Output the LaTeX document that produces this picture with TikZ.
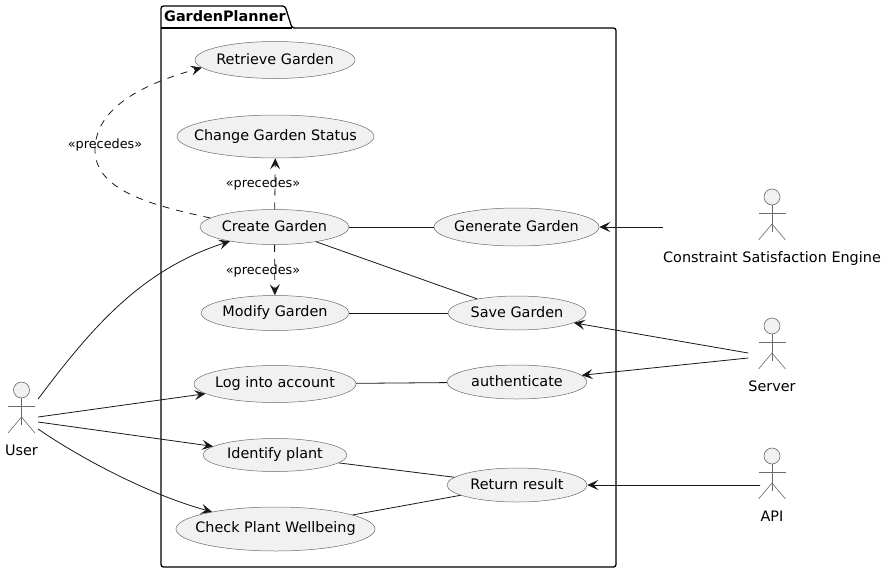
\documentclass[tikz,border=0pt]{standalone}
\usepackage{fontspec}
\setmainfont{DejaVu Sans}
\usetikzlibrary{arrows.meta, positioning, shapes.geometric}
\definecolor{usecasefill}{HTML}{F1F1F1}
\definecolor{usecaseline}{HTML}{6A6A6A}
\definecolor{linkline}{HTML}{181818}
\tikzset{node distance = 242pt, on grid,
         >= {Stealth[length = 11pt, width = 10pt, inset = 4.5pt]},
         usecase/.style = {ellipse, draw = usecaseline, line width = 0.5pt,
                           fill = usecasefill, inner sep = 0pt,
                           font = \fontsize{14.4}{16}\selectfont,
                           % text takes no room, so that the minimum sizes hold
                           execute at begin node = {\hbox to 0pt\bgroup\hss\raise 1.5pt\hbox\bgroup},
                           execute at end node = {\egroup\hss\egroup}},
         actorhead/.style = {circle, draw = usecaseline, line width = 0.6pt,
                             fill = usecasefill, minimum size = 16pt, inner sep = 0pt},
         actorline/.style = {draw = usecaseline, line width = 0.6pt},
         actorname/.style = {inner sep = 0pt, text height = 10pt, text depth = 3pt,
                             font = \fontsize{14.4}{16}\selectfont},
         link/.style = {draw = linkline, line width = 0.8pt},
         uses/.style = {link, ->},
         precedes/.style = {link, ->, dash pattern = on 7pt off 7pt},
         steptext/.style = {inner sep = 0pt, font = \fontsize{12.8}{14}\selectfont}}
% head, body, arms and legs, then the name under them
\newcommand{\actor}[4]{
    \node[actorhead] (#1head) at (#2, #3) {};
    \draw[actorline] (#1head.south) -- ++(0, 27);
    \draw[actorline] ([xshift = -13.5pt, yshift = -8pt]#1head.south) -- ++(27, 0);
    \draw[actorline] ([xshift = -13.5pt, yshift = -43pt]#1head.center) -- ++(13.5, -16) -- ++(13.5, 16);
    \node[actorname] (#1) at (#2, #3 + 61.5) {#4};
}

\begin{document}
\begin{tikzpicture}[x = 1pt, y = -1pt]
    \useasboundingbox (0, 0) rectangle (888, 573);

    % package
    \draw[line width = 1.3pt, rounded corners = 2.5pt]
        (161, 28) -- (161, 6) -- (285, 6) -- (292, 28) -- (616, 28)
        -- (616, 567) -- (161, 567) -- cycle;
    \draw[line width = 1.3pt] (161, 28) -- (292, 28);
    \node[inner sep = 0pt, anchor = west, font = \fontsize{14.4}{16}\selectfont\bfseries]
        (planner) at (164, 16) {GardenPlanner};

    % use cases
    \node[usecase, minimum width = 160pt, minimum height = 37pt] (retrieve) at (275, 60)    {Retrieve Garden};
    \node[usecase, minimum width = 197pt, minimum height = 43pt] (change)   at (275.5, 136.5) {Change Garden Status};
    \node[usecase, minimum width = 149pt, minimum height = 35pt] (create)   at (274.5, 227) {Create Garden};
    \node[usecase, minimum width = 148pt, minimum height = 35pt] (modify)   at (275, 313)   {Modify Garden};
    \node[usecase, minimum width = 162pt, minimum height = 37pt] (login)    at (275, 384)   {Log into account};
    \node[usecase, minimum width = 144pt, minimum height = 33pt] (identify) at (275, 455)   {Identify plant};
    \node[usecase, minimum width = 199pt, minimum height = 44pt] (check)    at (275.5, 529) {Check Plant Wellbeing};

    \node[usecase, minimum width = 165pt, minimum height = 38pt] (generate) [right of = create] {Generate Garden};
    \node[usecase, minimum width = 138pt, minimum height = 34pt] (save)     [right of = modify] {Save Garden};
    \node[usecase, minimum width = 140pt, minimum height = 34pt] (auth)     at (517, 382)   {authenticate};
    \node[usecase, minimum width = 140pt, minimum height = 34pt] (result)   at (517, 485)   {Return result};

    % actors
    \actor{user}{21.5}{390}{User}
    \actor{engine}{772}{197}{Constraint Satisfaction Engine}
    \actor{server}{772}{326}{Server}
    \actor{api}{772}{456}{API}

    % associations
    \draw[uses] ([yshift = 52.5pt]user.east) .. controls (90, 330) and (140, 270) .. (create);
    \draw[uses] ([yshift = 34.5pt]user.east) -- (login);
    \draw[uses] ([yshift = 29.5pt]user.east) -- (identify);
    \draw[uses] ([yshift = 22.5pt]user.east) .. controls (80, 458) and (150, 495) .. (check);

    \draw[link] (create) -- (generate);
    \draw[link] (create) -- (save);
    \draw[link] (modify) -- (save);
    \draw[link] (login) -- (auth);
    \draw[link] (identify) -- (result);
    \draw[link] (check) -- (result);

    \draw[uses] ([yshift = 31.5pt]engine.west) -- (generate);
    \draw[uses] ([yshift = 34.5pt]server.west) -- (save);
    \draw[uses] ([yshift = 29.5pt]server.west) -- (auth);
    \draw[uses] ([yshift = 32.5pt]api.west) -- (result);

    % dependencies
    \draw[precedes] (create.172) .. controls (150, 205) and (95, 190) .. (95, 150)
                                 .. controls (95, 105) and (150, 82) .. (retrieve.186);
    \draw[precedes] (create) -- (change);
    \draw[precedes] (create) -- (modify);

    \node[steptext] (farlabel)  at (105, 145) {«precedes»};
    \node[steptext] (uplabel)   at (263, 184) {«precedes»};
    \node[steptext] (downlabel) at (263, 271) {«precedes»};
\end{tikzpicture}
\end{document}
